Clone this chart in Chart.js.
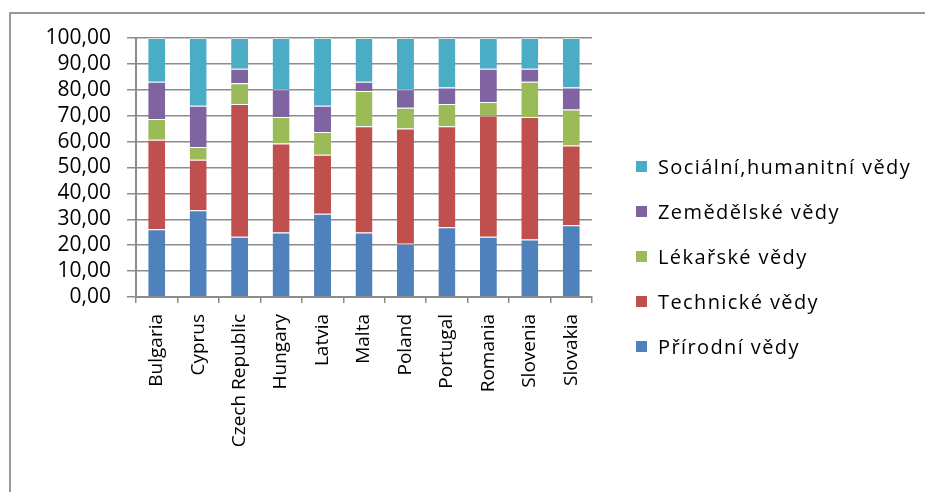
<!DOCTYPE html>
<html>
<head>
<meta charset="utf-8">
<script src="https://cdn.jsdelivr.net/npm/chart.js@4.4.1/dist/chart.umd.min.js"></script>
<style>
    html, body { margin: 0; padding: 0; background: #fff; }
    body { width: 925px; height: 492px; position: relative; overflow: hidden; font-family: 'Open Sans', sans-serif; }
    #frame { position: absolute; left: 9px; top: 12px; width: 940px; height: 500px; border-top: 2px solid #999; border-left: 2px solid #999; }
    #wrap { position: absolute; left: 0; top: 0; width: 925px; height: 492px; }
    #legend { position: absolute; left: 636px; top: 144px; }
    .item { height: 45px; display: flex; align-items: center; font-size: 20px; letter-spacing: 1.4px; color: #000; white-space: nowrap; }
    .item span.box { display: inline-block; width: 11px; height: 11px; margin-right: 11px; }
</style>
</head>
<body>
<div id="frame"></div>
<div id="wrap"><canvas id="chart" width="925" height="492"></canvas></div>
<div id="legend"></div>
<script>
const countries = ['Bulgaria', 'Cyprus', 'Czech Republic', 'Hungary', 'Latvia', 'Malta', 'Poland', 'Portugal', 'Romania', 'Slovenia', 'Slovakia'];

const prirodni   = [26.2, 33.5, 23.3, 24.9, 32.1, 24.9, 20.6, 26.9, 23.3, 22.2, 27.7];
const technicke  = [34.5, 19.5, 51.2, 34.4, 22.8, 41.0, 44.5, 39.0, 46.8, 47.3, 30.8];
const lekarske   = [8.0, 4.9, 8.0, 10.2, 8.8, 13.6, 8.0, 8.6, 5.2, 13.6, 13.9];
const zemedelske = [14.4, 15.9, 5.6, 10.7, 10.1, 3.6, 7.1, 6.4, 12.8, 5.0, 8.5];
const socialni   = [16.9, 26.2, 11.9, 19.8, 26.2, 16.9, 19.8, 19.1, 11.9, 11.9, 19.1];

const seriesNames = ['Přírodní vědy', 'Technické vědy', 'Lékařské vědy', 'Zemědělské vědy', 'Sociální,humanitní vědy'];
const seriesColors = ['#4F81BD', '#C0504D', '#9BBB59', '#8064A2', '#4BACC6'];

const gridColor = '#8c8c8c';
const values = [prirodni, technicke, lekarske, zemedelske, socialni];

const datasets = values.map((data, i) => ({
    label: seriesNames[i],
    data: data,
    backgroundColor: seriesColors[i],
    borderColor: 'rgba(255,255,255,0.45)',
    borderWidth: { top: 1 },
    borderSkipped: false,
    barPercentage: 0.41,
    categoryPercentage: 1.0
}));

new Chart(document.getElementById('chart'), {
    type: 'bar',
    data: { labels: countries, datasets },
    options: {
        responsive: false,
        animation: false,
        layout: { padding: { left: 0, right: 333, top: 38, bottom: 0 } },
        plugins: { legend: { display: false }, tooltip: { enabled: false } },
        scales: {
            x: {
                stacked: true,
                grid: { drawOnChartArea: false, offset: true, color: gridColor, lineWidth: 1.5, tickLength: 6 },
                border: { color: gridColor, width: 2 },
                ticks: { color: '#000', font: { family: 'Open Sans', size: 19 }, minRotation: 90, maxRotation: 90, padding: 11, autoSkip: false },
                afterFit: s => { s.height = 195; }
            },
            y: {
                stacked: true,
                min: 0, max: 100,
                grid: { color: gridColor, lineWidth: 1.5, tickLength: 9 },
                border: { color: gridColor, width: 2 },
                ticks: {
                    stepSize: 10, color: '#000', padding: 16, autoSkip: false,
                    font: { family: 'Open Sans', size: 21 },
                    callback: v => Number(v).toFixed(2).replace('.', ',')
                },
                afterFit: s => { s.width = 136; }
            }
        }
    }
});

// legenda (ordem invertida, como no original)
const legend = document.getElementById('legend');
for (let i = seriesNames.length - 1; i >= 0; i--) {
    const row = document.createElement('div');
    row.className = 'item';
    row.innerHTML = `<span class="box" style="background:${seriesColors[i]}"></span>${seriesNames[i]}`;
    legend.appendChild(row);
}
</script>
</body>
</html>
